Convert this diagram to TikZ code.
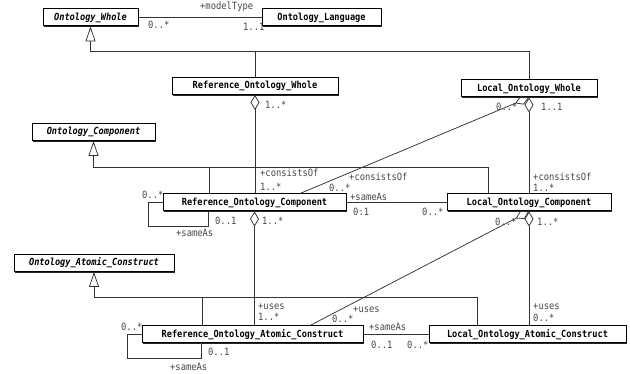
\documentclass[tikz,border=0pt]{standalone}
\usepackage{fontspec}
\setmainfont[FakeStretch=0.88]{DejaVu Sans Mono}
\usetikzlibrary{arrows.meta,shadows}
\begin{document}
\begin{tikzpicture}[x=1pt,y=-1pt,
  cls/.style={draw=black, line width=1pt, fill=white, minimum height=17pt,
    inner sep=0pt, font=\fontsize{9.8}{11}\selectfont\bfseries,
    drop shadow={shadow xshift=1.2pt, shadow yshift=-1.2pt, opacity=1, fill=black!85}},
  abs/.style={cls, font=\fontsize{9.8}{11}\selectfont\bfseries\itshape},
  link/.style={draw=black!80, line width=0.75pt},
  gen/.style={link, -{Triangle[open, length=15pt, width=10pt]}},
  agg/.style={link, {Diamond[open, length=15pt, width=9pt]}-},
  lbl/.style={font=\fontsize{10}{11}\selectfont, text=black!72, inner sep=0pt, anchor=west},
]
\path[use as bounding box] (0,0) rectangle (630,374);

% classes
\node[abs, minimum width=95pt]  (ow)   at (90.5,17.5)  {Ontology\_Whole};
\node[cls, minimum width=119pt] (ol)   at (321.5,17.5) {Ontology\_Language};
\node[cls, minimum width=166pt] (row)  at (255,86)     {Reference\_Ontology\_Whole};
\node[cls, minimum width=136pt] (low)  at (529,88.5)   {Local\_Ontology\_Whole};
\node[abs, minimum width=123pt] (oc)   at (93.5,132)   {Ontology\_Component};
\node[cls, minimum width=183pt] (roc)  at (254.5,202.5){Reference\_Ontology\_Component};
\node[cls, minimum width=164pt] (loc)  at (529,202.5)  {Local\_Ontology\_Component};
\node[abs, minimum width=160pt] (oac)  at (94,263)     {Ontology\_Atomic\_Construct};
\node[cls, minimum width=221pt] (roac) at (252.5,334.5){Reference\_Ontology\_Atomic\_Construct};
\node[cls, minimum width=197pt] (loac) at (527.5,334.5){Local\_Ontology\_Atomic\_Construct};

% junctions of the generalization trees and attachment points
\coordinate (gw) at (90.5,51);
\coordinate (gc) at (93.5,167);
\coordinate (gac) at (94,297);
\coordinate (rocg) at ([xshift=-45.5pt]roc.north);
\coordinate (locg) at ([xshift=-41pt]loc.north);
\coordinate (roacg) at ([xshift=-50.5pt]roac.north);
\coordinate (loacg) at ([xshift=-50.5pt]loac.north);
\coordinate (rocd) at ([xshift=45.5pt]roc.north);
\coordinate (roacd) at ([xshift=57.5pt]roac.north);
\coordinate (rocl) at ([xshift=-46.5pt]roc.south);
\coordinate (roacl) at ([xshift=-51.5pt]roac.south);

% generalizations
\draw[gen] (row.north) |- (gw) -- (ow.south);
\draw[link] (low.north) |- (gw);
\draw[gen] (locg) |- (gc) -- (oc.south);
\draw[link] (rocg) -- (rocg |- gc);
\draw[gen] (loacg) |- (gac) -- (oac.south);
\draw[link] (roacg) -- (roacg |- gac);

% associations
\draw[link] (ow.east) -- (ol.west);
\draw[link] (roc.east) -- (loc.west);
\draw[link] (roac.east) -- (loac.west);
\draw[link] (roc.west) -- ++(-14,0) -- ++(0,23.5) -| (rocl);
\draw[link] (roac.west) -- ++(-14,0) -- ++(0,23.5) -| (roacl);

% aggregations
\draw[agg] (row.south) -- (row.south |- roc.north);
\draw[agg] (low.south) -- (low.south |- loc.north);
\draw[agg] (low.south) -- (rocd);
\draw[agg] (roc.south) -- (roc.south |- roac.north);
\draw[agg] (loc.south) -- (loc.south |- loac.north);
\draw[agg] (loc.south) -- (roacd);

% role names and multiplicities
\node[lbl] (t1)  at (200,7)   {+modelType};
\node[lbl] (t2)  at (148,24.5){0..*};
\node[lbl] (t3)  at (243,27)  {1..1};
\node[lbl] (t4)  at (265,105) {1..*};
\node[lbl] (t5)  at (496,107) {0..*};
\node[lbl] (t6)  at (541,107) {1..1};
\node[lbl] (t7)  at (260,173) {+consistsOf};
\node[lbl] (t8)  at (260,187) {1..*};
\node[lbl] (t9)  at (349,177) {+consistsOf};
\node[lbl] (t10) at (329,188) {0..*};
\node[lbl] (t11) at (350,197) {+sameAs};
\node[lbl] (t12) at (353,212) {0:1};
\node[lbl] (t13) at (422,212) {0..*};
\node[lbl] (t14) at (533,177) {+consistsOf};
\node[lbl] (t15) at (533,188) {1..*};
\node[lbl] (t16) at (142,195) {0..*};
\node[lbl] (t17) at (215,221) {0..1};
\node[lbl] (t18) at (262,221) {1..*};
\node[lbl] (t19) at (176,233) {+sameAs};
\node[lbl] (t20) at (258,307) {+uses};
\node[lbl] (t21) at (258,317) {1..*};
\node[lbl] (t22) at (495,222) {0..*};
\node[lbl] (t23) at (537,222) {1..*};
\node[lbl] (t24) at (353,310) {+uses};
\node[lbl] (t25) at (332,319) {0..*};
\node[lbl] (t26) at (369,327) {+sameAs};
\node[lbl] (t27) at (371,345) {0..1};
\node[lbl] (t28) at (407,345) {0..*};
\node[lbl] (t29) at (533,307) {+uses};
\node[lbl] (t30) at (533,318) {0..*};
\node[lbl] (t31) at (121,327) {0..*};
\node[lbl] (t32) at (208,352) {0..1};
\node[lbl] (t33) at (170,367) {+sameAs};
\end{tikzpicture}
\end{document}
